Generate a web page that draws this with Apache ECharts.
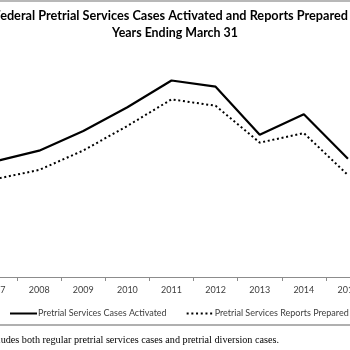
<!DOCTYPE html>
<html>
<head>
<meta charset="utf-8">
<script src="https://cdn.jsdelivr.net/npm/echarts@6/dist/echarts.min.js"></script>
<style>
  html, body { margin: 0; padding: 0; background: #fff; overflow: hidden; }
  /* the reference is a crop of a wider chart, so the canvas overhangs the window */
  #main { position: absolute; left: -27px; top: 0; width: 397px; height: 350px; }
  /* outer chart frame, only top and bottom edges are in view */
  #frame {
    position: absolute; left: 0; top: 0; width: 350px; height: 326px;
    box-sizing: border-box; border-top: 2px solid #b8b8b8; border-bottom: 2px solid #b0b0b0;
    pointer-events: none; z-index: 10;
  }
</style>
</head>
<body>
<div id="main"></div>
<div id="frame"></div>
<script>
// fiscal years (ending March 31)
const years = ['2007', '2008', '2009', '2010', '2011', '2012', '2013', '2014', '2015'];
// arbitrary units (y axis is cropped out)
const casesActivated = [63.1, 68.9, 79.6, 92.6, 107.2, 103.8, 77.6, 88.8, 64.5];
const reportsPrepared = [53.4, 58.4, 69.0, 82.4, 96.9, 93.4, 73.3, 78.5, 55.6];

const OFF = 27; // canvas offset to window

const chart = echarts.init(document.getElementById('main'), null, { renderer: 'canvas' });

const option = {
    animation: false,
    backgroundColor: '#fff',
    grid: {
        left: 0,
        right: 0,
        top: 57,
        bottom: 73,
        containLabel: false
    },
    xAxis: {
        type: 'category',
        data: years,
        boundaryGap: true,
        axisLine: { lineStyle: { color: '#8c8c8c', width: 1 } },
        axisTick: { show: true, length: 4, lineStyle: { color: '#8c8c8c' } },
        axisLabel: {
            color: '#404040',
            fontFamily: 'Lato',
            fontSize: 9,
            margin: 9
        },
        splitLine: { show: false }
    },
    yAxis: {
        type: 'value',
        min: 0,
        max: 120,
        show: false,
        splitLine: { show: false }
    },
    legend: {
        left: 4 + OFF,
        top: 304,
        itemWidth: 27,
        itemHeight: 8,
        itemGap: 19,
        itemStyle: { color: 'rgba(0,0,0,0)', borderWidth: 0, opacity: 0 },
        textStyle: {
            color: '#404040',
            fontFamily: 'Lato',
            fontSize: 9,
            padding: [0, 0, 0, -4]
        },
        data: ['Pretrial Services Cases Activated', 'Pretrial Services Reports Prepared']
    },
    series: [
        {
            name: 'Pretrial Services Cases Activated',
            type: 'line',
            data: casesActivated,
            symbol: 'none',
            lineStyle: { color: '#000', width: 2.2 },
            itemStyle: { color: '#000' }
        },
        {
            name: 'Pretrial Services Reports Prepared',
            type: 'line',
            data: reportsPrepared,
            symbol: 'none',
            lineStyle: { color: '#000', width: 2, type: [2, 2.7] },
            itemStyle: { color: '#000' }
        }
    ],
    graphic: [
        {
            type: 'text',
            silent: true,
            style: {
                text: 'Federal Pretrial Services Cases Activated and Reports Prepared',
                x: 348 + OFF, y: 16,
                textAlign: 'right', textVerticalAlign: 'middle',
                font: 'bold 12.7px Lato', fill: '#000'
            }
        },
        {
            type: 'text',
            silent: true,
            style: {
                text: 'Years Ending March 31',
                x: 175 + OFF, y: 33.3,
                textAlign: 'center', textVerticalAlign: 'middle',
                font: 'bold 12.4px Lato', fill: '#000'
            }
        },
        {
            type: 'text',
            silent: true,
            style: {
                text: '*Includes both regular pretrial services cases and pretrial diversion cases.',
                x: 279 + OFF, y: 340,
                textAlign: 'right', textVerticalAlign: 'middle',
                font: '10.2px "Liberation Serif"', fill: '#000'
            }
        }
    ]
};

chart.setOption(option);
</script>
</body>
</html>
